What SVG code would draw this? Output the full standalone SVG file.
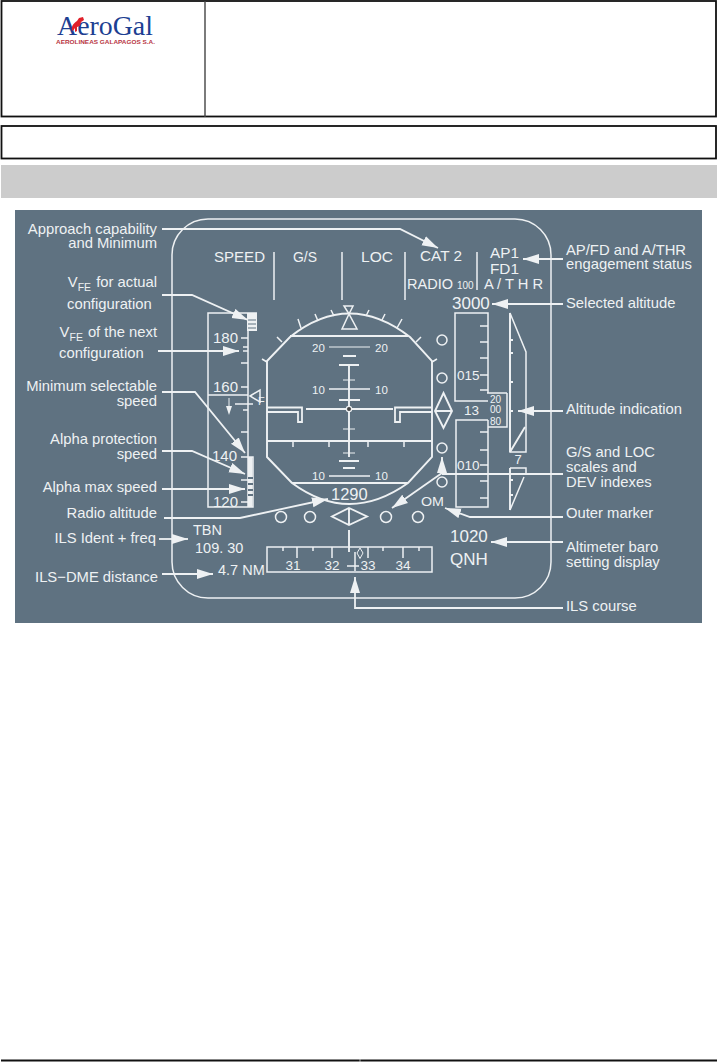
<svg xmlns="http://www.w3.org/2000/svg" width="717" height="1062" viewBox="0 0 717 1062">
<style>
text{font-family:"Liberation Sans",Arial,sans-serif;fill:#eef1f3;font-size:14.8px}
.e{text-anchor:end}.m{text-anchor:middle}
.s{font-size:10px}.d{font-size:15px}.l{font-size:17px}
.w{fill:none;stroke:#eef1f3;stroke-width:1.5}
.t{fill:none;stroke:#eef1f3;stroke-width:1.9}
.n{fill:none;stroke:#eef1f3;stroke-width:1}
.c{fill:none;stroke:#eef1f3;stroke-width:1.8;marker-end:url(#a)}
.p{fill:none;stroke:#eef1f3;stroke-width:1.8}
.b{fill:#eef1f3}
</style>
<defs><marker id="a" markerUnits="userSpaceOnUse" markerWidth="16" markerHeight="11" viewBox="0 0 16 11" refX="16" refY="5.5" orient="auto"><path d="M0,0.5L16,5.5L0,10.5z" fill="#eef1f3"/></marker></defs>
<rect width="717" height="1062" fill="#fff"/>
<g id="header">
<rect x="1.5" y="1" width="714.5" height="115.5" fill="#fff" stroke="#111" stroke-width="1.8"/>
<line x1="205" y1="1" x2="205" y2="117" stroke="#444" stroke-width="1.4"/>
<rect x="1.5" y="126" width="714.5" height="32.5" fill="#fff" stroke="#111" stroke-width="1.8"/>
<rect x="1" y="165" width="716" height="33" fill="#cccccc"/>
<line x1="1" y1="1060.5" x2="717" y2="1060.5" stroke="#111" stroke-width="2"/>
<line x1="360" y1="1059" x2="360" y2="1062" stroke="#ddd" stroke-width="0.7"/>
</g>
<g id="logo">
<text x="57" y="35" style="font-family:'Liberation Serif',serif;font-size:27px;fill:#1d3f92" textLength="96" lengthAdjust="spacingAndGlyphs">AeroGal</text>
<path d="M72,30C71,26 74,23 77,21L79,18L83,17L84,20L81,22L80,26L77,27L77,31L75,32L75,28L73,31z" fill="#e0202a"/>
<text x="56" y="44" style="font-size:6px;font-weight:bold;fill:#b8353f" textLength="99" lengthAdjust="spacingAndGlyphs">AEROLINEAS GALAPAGOS S.A.</text>
</g>
<rect id="panel" x="15" y="210" width="687" height="413" fill="#5f7281"/>
<g id="frame"><rect x="172" y="219" width="379" height="379" rx="36" ry="36" class="w"/></g>
<g id="fma">
<text x="214" y="262" textLength="51" lengthAdjust="spacingAndGlyphs">SPEED</text>
<text x="293" y="262" textLength="24" lengthAdjust="spacingAndGlyphs">G/S</text>
<text x="361" y="262" textLength="32" lengthAdjust="spacingAndGlyphs">LOC</text>
<text x="420" y="261" textLength="42" lengthAdjust="spacingAndGlyphs">CAT 2</text>
<text x="490" y="258" class="d" textLength="29" lengthAdjust="spacingAndGlyphs">AP1</text>
<text x="490" y="274" class="d" textLength="29" lengthAdjust="spacingAndGlyphs">FD1</text>
<text x="407" y="289" textLength="46" lengthAdjust="spacingAndGlyphs">RADIO</text>
<text x="457" y="289" style="font-size:10px">100</text>
<text x="484" y="289" textLength="59" lengthAdjust="spacingAndGlyphs">A / T H R</text>
<path class="w" d="M274,252V300M342,252V300M405,252V300M477,252V290"/>
</g>
<g id="speed-tape">
<path class="w" d="M257,313H208V507H253V457H248M248,313V507M208,395H248M235,404H253"/>
<rect x="247" y="313" width="10" height="18" fill="#eef1f3"/>
<path d="M248,320H256M248,324H256M248,328H256" stroke="#5f7281" stroke-width="1"/>
<rect x="248" y="457" width="4.5" height="50" fill="#eef1f3"/>
<path d="M248,478H253M248,484H253M248,490H253M248,495H253" stroke="#5f7281" stroke-width="2"/>
<path class="w" d="M241,338H248M243,347H248M243,351H248M241,363H248M241,387H248M243,410H248M241,432H248M241,457H248M241,480H248M241,502H248"/>
<path class="n" d="M229,398V408"/><path class="b" d="M226,406H232L229,415z"/>
<text x="213" y="343" class="d">180</text>
<text x="213" y="392" class="d">160</text>
<text x="212" y="461" class="d">140</text>
<text x="213" y="507" class="d">120</text>
<path class="w" d="M250,396L260,390V402z"/>
<text x="258" y="405" style="font-size:11px">F</text>
</g>
<g id="attitude">
<path class="t" d="M267,361L290,337Q349,290 410,337L432,361V457L408,483Q349,525 292,483L267,457z"/>
<path class="t" d="M290,336H408M292,483H408M267,441H432M349,365V457M306,409H393"/>
<path class="w" d="M293,441V447M329,441V447M368,441V447M404,441V447"/>
<path class="n" d="M329,347H370M343,380H355M343,429H355M343,453H355"/>
<path class="t" d="M343,356H356M339,365H359M339,400H360M339,461H359M343,468H355"/>
<path class="n" style="stroke-width:1.4" d="M329,389H370M329,476H370"/>
<circle cx="349" cy="409" r="2.6" fill="#444" stroke="#eef1f3" stroke-width="1.2"/>
<path class="w" style="stroke-width:1.8" d="M267,407.5H302V422H298V412H267M432,407.5H395V422H400V412H432"/>
<path class="w" d="M344,306H353L349,314zM349,314L342,329H357z"/>
<path class="w" d="M298,319L301,328M315,314L318,321M331,310L334,316M366,316L369,310M382,320L385,314M397,328L402,319M277,337L282,342M262,359L267,362M421,337L416,342M437,359L432,362"/>
<text x="312" y="352" style="font-size:11.5px">20</text><text x="375" y="352" style="font-size:11.5px">20</text>
<text x="312" y="394" style="font-size:11.5px">10</text><text x="375" y="394" style="font-size:11.5px">10</text>
<text x="312" y="480" style="font-size:11.5px">10</text><text x="375" y="480" style="font-size:11.5px">10</text>
<text x="331" y="500" style="font-size:16.5px">1290</text>
</g>
<g id="gs-loc-scales">
<circle cx="442" cy="340" r="5" class="w"/><circle cx="442" cy="378" r="5" class="w"/><circle cx="442" cy="448" r="5" class="w"/><circle cx="442" cy="482" r="5" class="w"/>
<path class="t" d="M443.5,393L452,411L443.5,428L435,411zM435,411H452"/>
<circle cx="281" cy="517" r="5.5" class="w"/><circle cx="310" cy="517" r="5.5" class="w"/><circle cx="386" cy="517" r="5.5" class="w"/><circle cx="418" cy="517" r="5.5" class="w"/>
<path class="t" d="M349,508L367,516.5L349,525L332,516.5zM349,508V525"/>
<text x="421" y="506" style="font-size:12.5px" textLength="23" lengthAdjust="spacingAndGlyphs">OM</text>
</g>
<g id="altitude-tape">
<path class="w" d="M488,393V313H455V401H488M507,393H487M507,393V427H488M488,420H456V507H488V420"/>
<path class="w" d="M480,326H488M480,342H488M480,358H488M480,375H488M480,390H488M480,432H488M480,450H488M480,465H488M480,481H488M480,498H488"/>
<text x="457" y="380" style="font-size:13.5px">015</text>
<text x="457" y="470" style="font-size:13.5px">010</text>
<text x="464" y="415" style="font-size:13.5px">13</text>
<text x="490" y="403" class="s">20</text><text x="490" y="413" class="s">00</text><text x="490" y="425" class="s">80</text>
<text x="452" y="309" class="l">3000</text>
</g>
<g id="vs-scale">
<path class="w" d="M510,313L526,352V452H510z"/>
<path class="t" d="M510,313V452M510,452L525,427M510,468V510"/>
<path class="w" d="M510,468H526V474M524,477L510,510"/>
<path class="t" d="M510,340H513M510,353H513M510,382H513M510,411H513M510,480H513M510,495H513"/>
<text x="518" y="464" class="m" style="font-size:13px">7</text>
</g>
<g id="ils-course">
<path class="w" d="M267,547H432V572H267z"/>
<path class="w" d="M297,547V558M332,547V558M368,547V558M403,547V558M283,547V551M313,547V551M383,547V551M419,547V551"/>
<path class="t" d="M349,530V552"/>
<path class="w" d="M355,552V571M347,566H359"/>
<path class="n" d="M360,548L363,553L360,558.5L357,553z"/>
<text x="293" y="570" class="m" style="font-size:13.5px">31</text>
<text x="332" y="570" class="m" style="font-size:13.5px">32</text>
<text x="368" y="570" class="m" style="font-size:13.5px">33</text>
<text x="403" y="570" class="m" style="font-size:13.5px">34</text>
</g>
<g id="readouts">
<text x="193" y="535" style="font-size:14.5px">TBN</text>
<text x="195" y="553" style="font-size:14.5px">109. 30</text>
<text x="218" y="575" style="font-size:14.5px">4.7 NM</text>
<text x="450" y="542" class="l">1020</text>
<text x="450" y="565" class="l">QNH</text>
</g>
<g id="connectors">
<path class="c" d="M162,229H400L438,248"/>
<path class="c" d="M162,295H192L248,320"/>
<path class="c" d="M158,351H239"/>
<path class="c" d="M162,392H195L245,453"/>
<path class="c" d="M162,451H192L245,474"/>
<path class="c" d="M162,489H245"/>
<path class="c" d="M164,518H240L328,499"/>
<path class="c" d="M159,539H188"/>
<path class="c" d="M162,574H213"/>
<path class="c" d="M563,259H523"/>
<path class="c" d="M563,304H492"/>
<path class="c" d="M563,411H518"/>
<path class="p" d="M563,474H442"/>
<path class="c" d="M442,474V457"/>
<path class="c" d="M442,473L392,508"/>
<path class="c" d="M563,517H470L445,508"/>
<path class="c" d="M563,542H491"/>
<path class="c" d="M563,608H355V577"/>
</g>
<g id="callouts-left">
<text x="157" y="234" class="e">Approach capability</text>
<text x="157" y="248" class="e">and Minimum</text>
<text x="157" y="287" class="e">V<tspan dy="4" style="font-size:10.5px">FE</tspan><tspan dy="-4" dx="5">for actual</tspan></text>
<text x="67" y="309">configuration</text>
<text x="157" y="337" class="e">V<tspan dy="4" style="font-size:10.5px">FE</tspan><tspan dy="-4" dx="5">of the next</tspan></text>
<text x="59" y="358">configuration</text>
<text x="157" y="391" class="e">Minimum selectable</text>
<text x="157" y="406" class="e">speed</text>
<text x="157" y="444" class="e">Alpha protection</text>
<text x="157" y="459" class="e">speed</text>
<text x="157" y="492" class="e">Alpha max speed</text>
<text x="157" y="518" class="e">Radio altitude</text>
<text x="156" y="543" class="e">ILS Ident + freq</text>
<text x="158" y="582" class="e">ILS−DME distance</text>
</g>
<g id="callouts-right">
<text x="566" y="255">AP/FD and A/THR</text>
<text x="566" y="269">engagement status</text>
<text x="566" y="308">Selected altitude</text>
<text x="566" y="414">Altitude indication</text>
<text x="566" y="457">G/S and LOC</text>
<text x="566" y="472">scales and</text>
<text x="566" y="487">DEV indexes</text>
<text x="566" y="518">Outer marker</text>
<text x="566" y="552">Altimeter baro</text>
<text x="566" y="567">setting display</text>
<text x="566" y="611">ILS course</text>
</g>
</svg>
